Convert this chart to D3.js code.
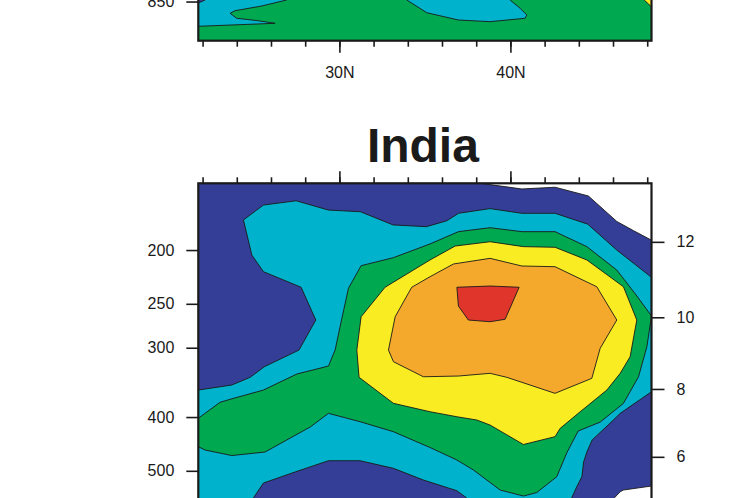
<!DOCTYPE html>
<html>
<head>
<meta charset="utf-8">
<script src="https://cdn.jsdelivr.net/npm/d3@7"></script>
<style>
  body { margin: 0; background: #fff; }
  svg text { font-family: "Liberation Sans", Arial, Helvetica, sans-serif; fill: #1a1a1a; }
</style>
</head>
<body>
<script>
// fill colours of the contour levels, lowest first
const levelColors = ["#343e96", "#00b2cb", "#00a84f", "#f9ec23", "#f4a92d", "#e0352b"];

// tick values
const latTicks = [22, 24, 26, 28, 30, 32, 34, 36, 38, 40, 42, 44, 46, 48];
const latMajor = [30, 40];
const presTicks = [200, 250, 300, 400, 500, 700, 850];   // hPa
const hgtTicks = [6, 8, 10, 12];                          // km
const upperPresTicks = [850];                             // the only one in view on the upper panel

// filled contour regions, [lat, pressure hPa], one list per level (region at or above the level)
const indiaLev1 = [[21.75,151.6],[38.23,151.6],[40.67,155.2],[42.61,154.1],[44.56,159.8],[46.22,177.6],
  [47.19,184.5],[48.25,192.0],[48.25,532.6],[46.61,541.5],[46.42,545.4],[45.95,565],[45.5,600],[21.75,600]];
const indiaLev2 = [[21.75,357.6],[23.71,350.2],[24.78,339.2],[25.61,324.6],[27.64,302.9],[28.62,267.4],
  [27.76,233.4],[25.56,218.8],[24.88,204.2],[24.39,176.5],[25.56,165.9],[27.47,163.0],[29.36,169.4],
  [31.23,170.6],[33.14,180.2],[35.09,181.5],[36.28,177.1],[36.97,171.7],[38.81,168.4],[40.67,171.7],
  [42.61,171.7],[44.52,179.6],[46.22,200.0],[48.25,224.0],[48.25,360.1],[46.42,393.9],[46.02,405.0],
  [44.78,440.0],[44.47,462.5],[44.28,482.1],[44.18,512.4],[43.88,534.2],[43.58,559.8],[43.3,600],
  [37.7,600],[37.45,559.8],[36.87,543.1],[34.91,519.5],[33.16,494.9],[31.21,479.5],[29.36,479.5],
  [27.45,501.9],[25.56,526.0],[24.97,559.8],[24.8,600],[21.75,600]];
const indiaLev3 = [[21.75,402.1],[23.02,376.3],[23.61,371.6],[25.56,357.6],[27.51,334.6],[29.36,323.7],
  [29.75,302.9],[30.04,274.9],[30.53,234.4],[31.27,213.4],[33.16,206.4],[35.30,195.0],[36.96,185.3],
  [38.81,182.3],[40.67,185.3],[42.61,185.3],[44.47,197.2],[46.22,217.3],[47.35,241.0],[48.25,263.0],
  [47.98,298.7],[47.49,338.4],[46.61,377.9],[45.25,408.4],[43.96,423.9],[43.30,463.8],[42.71,512.4],
  [41.54,547.2],[40.76,555.2],[39.40,541.5],[37.84,498.4],[36.87,478.1],[35.30,453.9],[33.16,425.1],
  [31.21,407.8],[29.36,393.9],[28.29,416.9],[25.65,462.5],[23.71,469.3],[22.15,458.7],[21.75,452.4]];
const indiaLev4 = [[35.30,208.4],[36.77,196.7],[38.81,193.2],[40.76,197.2],[42.61,197.7],[44.47,208.4],
  [46.61,232.9],[47.39,267.4],[47.00,311.4],[46.42,333.6],[45.64,357.6],[44.08,391.3],[42.91,419.2],
  [42.61,434.0],[40.76,448.3],[38.81,413.5],[38.04,405.0],[36.87,399.5],[35.30,391.3],[33.16,377.9],
  [31.15,339.2],[31.02,302.9],[31.27,263.8],[32.67,233.4]];
const indiaLev5 = [[35.30,223.4],[36.67,211.9],[38.81,207.0],[40.67,213.7],[42.61,214.3],[45.05,232.9],
  [46.22,267.4],[45.25,300.7],[44.76,340.6],[42.61,362.5],[39.79,339.2],[38.81,333.6],[36.96,337.4],
  [34.91,338.4],[33.16,317.9],[32.87,302.9],[33.26,263.8],[34.23,233.4]];
const indiaLev6 = [[36.87,233.4],[38.81,232.2],[40.51,233.4],[39.69,266.6],[38.81,269.3],[37.54,267.4],
  [36.96,252.3]];

// upper panel, only its lowest levels are in view
const upperLev1 = [[21.75,800],[48.25,800],[48.25,1000],[21.75,1000]];
const upperLev2 = [[21.75,855.1],[22.15,844.5],[22.15,800],[48.25,800],[48.25,1000],[21.75,1000]];
const upperLev3 = [[21.75,942.0],[26.24,930.3],[25.13,919.5],[24.00,911.2],[23.61,892.5],[23.90,882.9],
  [25.46,865.9],[26.92,844.5],[27.2,800],[33.7,800],[33.94,844.5],[35.11,890.3],[36.96,917.7],
  [38.81,924.1],[40.86,911.2],[40.96,898.8],[40.57,874.2],[39.98,844.5],[39.8,800],[48.25,800],
  [48.25,1000],[21.75,1000]];
const upperLev4 = [[47.6,800],[48.25,800],[48.25,869.5],[48.08,858.7],[47.82,844.5]];

// standard atmosphere: height (km) -> pressure (hPa)
function heightToPres(km) {
    const z = km * 1000;
    if (z <= 11000) return 1013.25 * Math.pow(1 - 0.0065 * z / 288.15, 5.25588);
    return 226.32 * Math.exp(-(z - 11000) / 6341.62);
}

const width = 755;
const height = 498;
const plotW = 453.2;
const plotH = 454.5;

const svg = d3.select("body").append("svg")
    .attr("width", width)
    .attr("height", height);

const xscale = d3.scaleLinear().domain([21.75, 48.25]).range([0, plotW]);
const yscale = d3.scaleLog().domain([151.6, 1000]).range([0, plotH]);

function styleAxis(g) {
    g.select(".domain").remove();
    g.selectAll(".tick line").attr("stroke", "#1a1a1a").attr("stroke-width", 1.6);
    g.selectAll("text").attr("font-size", 16).attr("font-family", null);
}

function ShowPanel(left, top, levels, id, pTicks, zTicks, title) {
    const g = svg.append("g").attr("transform", `translate(${left}, ${top})`);

    g.append("clipPath").attr("id", id)
        .append("rect").attr("width", plotW).attr("height", plotH);

    const area = g.append("g").attr("clip-path", `url(#${id})`);
    area.append("rect").attr("width", plotW).attr("height", plotH).attr("fill", "#fff");

    const line = d3.line().x(d => xscale(d[0])).y(d => yscale(d[1]));
    levels.forEach((poly, i) => {
        area.append("path")
            .attr("d", line(poly) + "Z")
            .attr("fill", levelColors[i])
            .attr("stroke", "#1a1a1a")
            .attr("stroke-width", 0.9)
            .attr("stroke-linejoin", "round");
    });

    // pressure axis
    g.append("g")
        .call(d3.axisLeft(yscale).tickValues(pTicks).tickFormat(d3.format("d"))
            .tickSize(12).tickPadding(12))
        .call(styleAxis);

    // height axis
    g.append("g")
        .attr("transform", `translate(${plotW}, 0)`)
        .call(d3.axisRight(yscale).tickValues(zTicks.map(heightToPres))
            .tickFormat((d, i) => zTicks[i]).tickSize(13).tickPadding(12))
        .call(styleAxis);

    // latitude ticks, top and bottom
    g.append("g").call(d3.axisTop(xscale).tickValues(latTicks).tickSize(6).tickFormat("")).call(styleAxis);
    g.append("g").call(d3.axisTop(xscale).tickValues(latMajor).tickSize(12).tickFormat("")).call(styleAxis);
    g.append("g").attr("transform", `translate(0, ${plotH})`)
        .call(d3.axisBottom(xscale).tickValues(latTicks).tickSize(6).tickFormat("")).call(styleAxis);
    g.append("g").attr("transform", `translate(0, ${plotH})`)
        .call(d3.axisBottom(xscale).tickValues(latMajor).tickSize(12).tickPadding(14).tickFormat(d => d + "N"))
        .call(styleAxis);

    g.append("rect")
        .attr("width", plotW).attr("height", plotH)
        .attr("fill", "none").attr("stroke", "#1a1a1a").attr("stroke-width", 2.2);

    if (title) {
        g.append("text")
            .attr("x", plotW / 2 - 2)
            .attr("y", -21.6)
            .attr("text-anchor", "middle")
            .attr("font-size", 48)
            .attr("font-weight", "bold")
            .text(title);
    }
}

ShowPanel(198.3, 40.7 - plotH, [upperLev1, upperLev2, upperLev3, upperLev4], "clipUpper",
    upperPresTicks, [], null);
ShowPanel(198.3, 183.3, [indiaLev1, indiaLev2, indiaLev3, indiaLev4, indiaLev5, indiaLev6], "clipIndia",
    presTicks, hgtTicks, "India");
</script>
</body>
</html>
